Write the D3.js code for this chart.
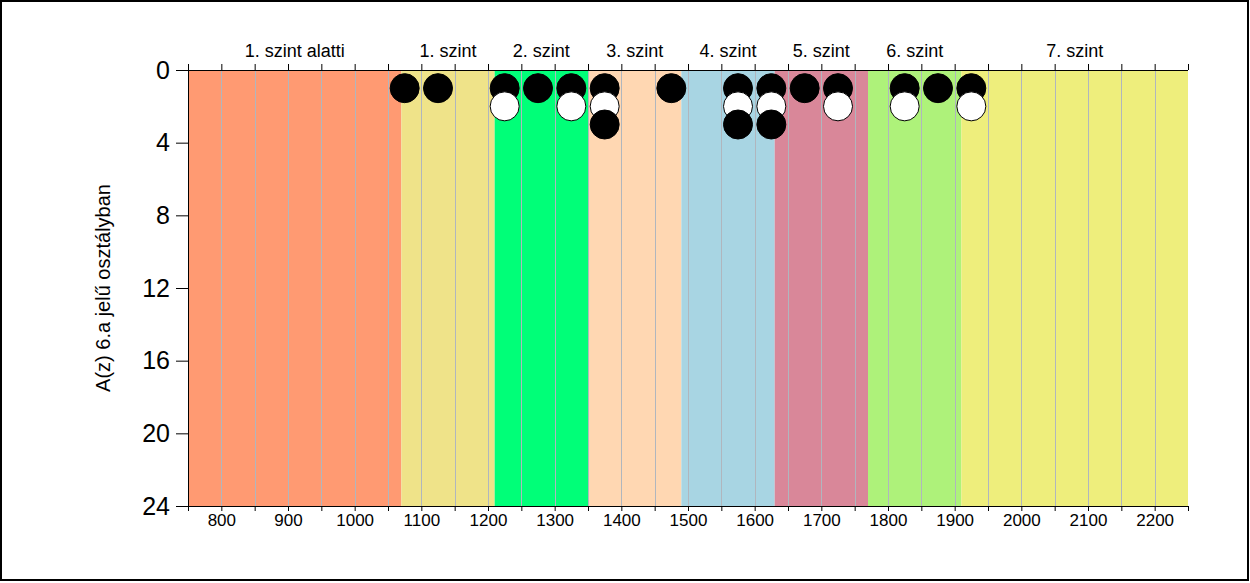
<!DOCTYPE html>
<html>
<head>
<meta charset="utf-8">
<script src="https://cdn.jsdelivr.net/npm/d3@7"></script>
<style>
html,body{margin:0;padding:0;background:#fff;}
svg{display:block;font-family:"Liberation Sans",Arial,sans-serif;}
</style>
</head>
<body>
<svg id="chart" width="1250" height="583"></svg>
<script>
// Level bands
const bandLabels = ["1. szint alatti","1. szint","2. szint","3. szint","4. szint","5. szint","6. szint","7. szint"];
const bandStarts = [750,1070,1210,1350,1490,1630,1770,1910];
const bandEnds   = [1070,1210,1350,1490,1630,1770,1910,2250];
const bandColors = ["#FF9A72","#EFE389","#00FF78","#FFD7B2","#A8D5E3","#D98799","#AEF27A","#EEEE7C"];
// Dots: score bin centre, stack position, fill
const dotScores = [1075,1125,1225,1225,1275,1325,1325,1375,1375,1375,1475,1575,1575,1575,1625,1625,1625,1675,1725,1725,1825,1825,1875,1925,1925];
const dotRows   = [1,1,1,2,1,1,2,1,2,3,1,1,2,3,1,2,3,1,1,2,1,2,1,1,2];
const dotFills  = ["#000","#000","#000","#fff","#000","#000","#fff","#000","#fff","#000","#000","#000","#fff","#000","#000","#fff","#000","#000","#000","#fff","#000","#fff","#000","#000","#fff"];
// Axis ticks
const xTickLabels = [800,900,1000,1100,1200,1300,1400,1500,1600,1700,1800,1900,2000,2100,2200];
const yTickLabels = [0,4,8,12,16,20,24];
const yTitle = "A(z) 6.a jelű osztályban";

const svg = d3.select("#chart");
const L = 188, R = 1188, T = 70, B = 506;
const x = d3.scaleLinear().domain([750,2250]).range([L,R]);
const y = d3.scaleLinear().domain([0,24]).range([T,B]);
const minor = d3.range(750,2251,50);

// outer frame
svg.append("rect").attr("x",1).attr("y",1).attr("width",1247).attr("height",579)
  .attr("fill","none").attr("stroke","#000").attr("stroke-width",2);

// bands
svg.append("g").selectAll("rect").data(bandLabels).join("rect")
  .attr("x",(d,i)=>x(bandStarts[i])).attr("y",T)
  .attr("width",(d,i)=>x(bandEnds[i])-x(bandStarts[i])).attr("height",B-T)
  .attr("fill",(d,i)=>bandColors[i]);

// grid
svg.append("g").selectAll("line").data(d3.range(800,2201,50)).join("line")
  .attr("x1",d=>Math.round(x(d))+0.5).attr("x2",d=>Math.round(x(d))+0.5)
  .attr("y1",T).attr("y2",B).attr("stroke","#B0B6BE").attr("stroke-width",1);

// band labels
svg.append("g").selectAll("text").data(bandLabels).join("text")
  .attr("x",(d,i)=>x((bandStarts[i]+bandEnds[i])/2)).attr("y",57)
  .attr("text-anchor","middle").attr("font-size",18).attr("fill","#000").text(d=>d);

// top axis
const topAxis = svg.append("g").attr("transform",`translate(0,${T})`)
  .call(d3.axisTop(x).tickValues(minor).tickSize(6).tickFormat(""));
topAxis.select(".domain").attr("d",`M${L},0.5H${R}`).attr("stroke","#000");
topAxis.selectAll(".tick line").attr("stroke","#000");

// bottom axis
const botAxis = svg.append("g").attr("transform",`translate(0,${B})`)
  .call(d3.axisBottom(x).tickValues(minor).tickSize(5)
    .tickFormat(d=>xTickLabels.includes(d)?d:""));
botAxis.select(".domain").attr("d",`M${L},0.5H${R}`).attr("stroke","#000");
botAxis.selectAll(".tick line").attr("stroke","#000");
botAxis.selectAll(".tick text").attr("font-size",17).attr("fill","#000")
  .attr("font-family","'Liberation Sans',Arial,sans-serif");

// left axis
const leftAxis = svg.append("g").attr("transform",`translate(${L},0)`)
  .call(d3.axisLeft(y).tickValues(yTickLabels).tickSize(12).tickPadding(6));
leftAxis.select(".domain").attr("d",`M0.5,${T-5}V${B}`).attr("stroke","#000");
leftAxis.selectAll(".tick line").attr("stroke","#000");
leftAxis.selectAll(".tick text").attr("font-size",25).attr("fill","#000")
  .attr("font-family","'Liberation Sans',Arial,sans-serif");

// y title
svg.append("text").attr("transform",`translate(110,${(T+B)/2}) rotate(-90)`)
  .attr("text-anchor","middle").attr("font-size",20).attr("fill","#000").text(yTitle);

// dots
svg.append("g").selectAll("circle").data(dotScores).join("circle")
  .attr("cx",(d)=>x(d)).attr("cy",(d,i)=>y(dotRows[i]))
  .attr("r",14.5).attr("fill",(d,i)=>dotFills[i])
  .attr("stroke","#000").attr("stroke-width",1);
</script>
</body>
</html>
